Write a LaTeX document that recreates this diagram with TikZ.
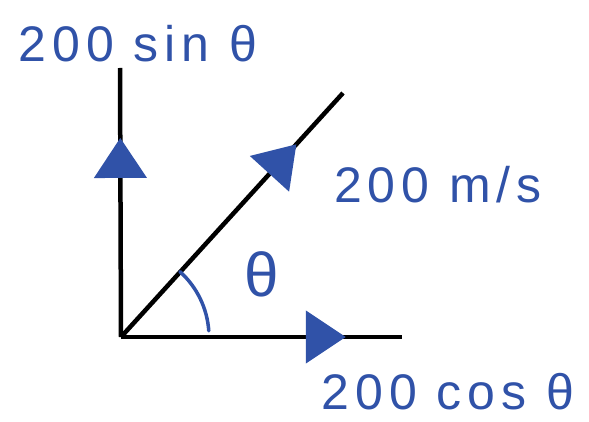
\documentclass[tikz,border=0pt]{standalone}
\usepackage{fontspec}
\setmainfont{Liberation Sans}
\usetikzlibrary{arrows.meta,decorations.markings}
\definecolor{ink}{RGB}{48,82,168}
\tikzset{
  axisline/.style={line width=4.5pt, black},
  midtip/.style={postaction={decorate}, decoration={markings,
     mark=at position #1 with {\arrow[ink]{Triangle[length=40pt,width=52pt]}}}},
  lbl/.style={text=ink, font=\fontsize{50}{54}\selectfont\addfontfeature{LetterSpace=12}, inner sep=0pt},
  anglearc/.style={ink, line width=3.5pt, line cap=round}
}
\begin{document}
\begin{tikzpicture}[x=1pt,y=-1pt]
\useasboundingbox (0,0) rectangle (589,422);
\coordinate (O) at (121,337);
\coordinate (top) at (120,68);
\coordinate (right) at (402,337);
\coordinate (tip) at (343,93);
\draw[axisline, midtip=0.74] (O) -- (top);
\draw[axisline, midtip=0.79] (O) -- (tip);
\draw[axisline, midtip=0.80] (O) -- (right);
\draw[anglearc] ([shift={(48:88pt)}]O) arc[start angle=48, end angle=4, radius=88pt];
\node[lbl, font=\fontsize{62}{66}\selectfont] (theta) at (262,274) {θ};
\node[lbl] (sin) at (138,44) {200 sin θ};
\node[lbl] (vel) at (438,185) {200 m/s};
\node[lbl] (cos) at (448,392) {200 cos θ};
\end{tikzpicture}
\end{document}
